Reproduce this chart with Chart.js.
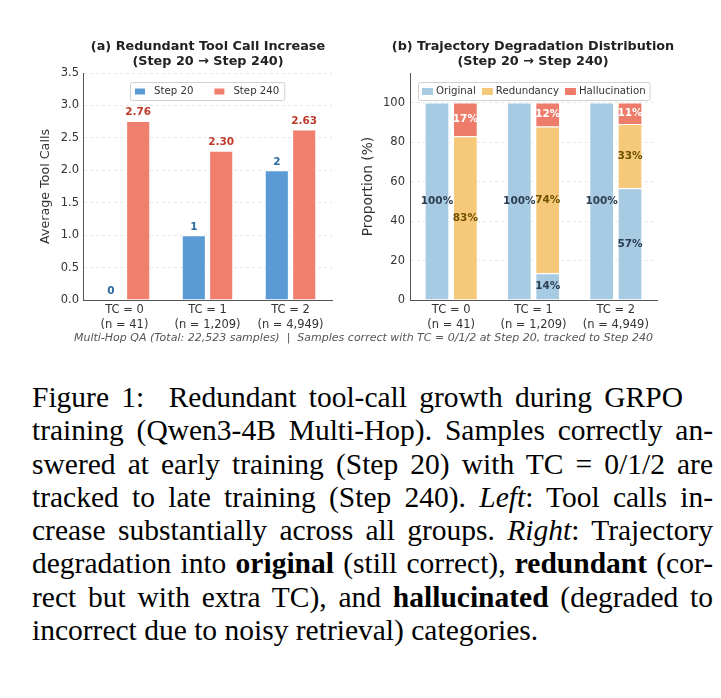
<!DOCTYPE html>
<html>
<head>
<meta charset="utf-8">
<script src="https://cdn.jsdelivr.net/npm/chart.js@4.4.0/dist/chart.umd.min.js"></script>
<style>
body { margin: 0; background: #fff; width: 721px; height: 698px; position: relative; overflow: hidden; font-family: 'DejaVu Sans', sans-serif; }
canvas { position: absolute; }
#toolChart { left: 0; top: 30px; }
#trajChart { left: 350px; top: 30px; }
.ttl { position: absolute; width: 400px; font-family: 'DejaVu Sans'; font-weight: bold; font-size: 12.8px; color: #222; text-align: center; line-height: 15px; }
#note { position: absolute; left: 3px; width: 721px; top: 331px; text-align: center; font-family: 'DejaVu Sans'; font-style: italic; font-size: 11px; line-height: 14px; color: #555; white-space: pre; }
#caption { position: absolute; left: 32px; top: 381px; width: 681px; font-family: 'Liberation Serif', 'Times New Roman', serif; font-size: 29.5px; line-height: 33.3px; color: #000; }
#caption div { text-align: justify; text-align-last: justify; }
#caption div.last { text-align-last: left; }
</style>
</head>
<body>
<canvas id="toolChart" width="345" height="310"></canvas>
<canvas id="trajChart" width="371" height="310"></canvas>
<div class="ttl" style="left:8px;top:38px">(a) Redundant Tool Call Increase<br>(Step 20 → Step 240)</div>
<div class="ttl" style="left:333px;top:38px">(b) Trajectory Degradation Distribution<br>(Step 20 → Step 240)</div>
<div id="note">Multi-Hop QA (Total: 22,523 samples)  |  Samples correct with TC = 0/1/2 at Step 20, tracked to Step 240</div>
<div id="caption">
  <div style="width:651px">Figure 1:&nbsp; Redundant tool-call growth during GRPO</div>
  <div>training (Qwen3-4B Multi-Hop). Samples correctly an-</div>
  <div>swered at early training (Step 20) with TC = 0/1/2 are</div>
  <div>tracked to late training (Step 240). <i>Left</i>: Tool calls in-</div>
  <div>crease substantially across all groups. <i>Right</i>: Trajectory</div>
  <div>degradation into <b>original</b> (still correct), <b>redundant</b> (cor-</div>
  <div>rect but with extra TC), and <b>hallucinated</b> (degraded to</div>
  <div class="last">incorrect due to noisy retrieval) categories.</div>
</div>
<script>
// groups tracked from step 20 to step 240
const groups = ['TC = 0', 'TC = 1', 'TC = 2'];
const groupSizes = ['(n = 41)', '(n = 1,209)', '(n = 4,949)'];

// (a) average tool calls
const step20Calls = [0, 1, 2];
const step240Calls = [2.76, 2.30, 2.63];
const callTicks = [0, 0.5, 1.0, 1.5, 2.0, 2.5, 3.0, 3.5];

// (b) proportions (%)
const step20Original = [100, 100, 100];
const step240Original = [0, 13.5, 56.6];
const step240Redundancy = [82.9, 74.4, 32.6];
const step240Hallucination = [17.1, 12.1, 10.8];

const tickLabels = groups.map((g, i) => [g, groupSizes[i]]);

Chart.defaults.font.family = "'DejaVu Sans'";

// legend box drawn inside the plot area, like matplotlib's upper center
const insideLegend = {
    id: 'insideLegend',
    afterDraw(chart, args, opts) {
        const ctx = chart.ctx;
        const area = chart.chartArea;
        ctx.save();
        ctx.font = opts.fontSize + 'px "DejaVu Sans"';
        let w = opts.padX * 2;
        opts.items.forEach((it, i) => {
            w += opts.patchW + opts.gap + ctx.measureText(it.label).width + (i ? opts.itemGap : 0);
        });
        const x0 = Math.round((area.left + area.right) / 2 - w / 2);
        const y0 = area.top + opts.top;
        const h = opts.height;
        ctx.fillStyle = 'rgba(255,255,255,0.9)';
        ctx.strokeStyle = '#d0d0d0';
        ctx.lineWidth = 1;
        ctx.beginPath();
        ctx.roundRect(x0 + 0.5, y0 + 0.5, w, h, 2);
        ctx.fill();
        ctx.stroke();
        let x = x0 + opts.padX;
        const cy = y0 + h / 2 + 0.5;
        opts.items.forEach(it => {
            ctx.fillStyle = it.color;
            ctx.fillRect(x, cy - opts.patchH / 2, opts.patchW, opts.patchH);
            x += opts.patchW + opts.gap;
            ctx.fillStyle = '#333';
            ctx.textBaseline = 'middle';
            ctx.textAlign = 'left';
            ctx.fillText(it.label, x, cy);
            x += ctx.measureText(it.label).width + opts.itemGap;
        });
        ctx.restore();
    }
};

// value labels on the bars
const valueLabels = {
    id: 'valueLabels',
    afterDatasetsDraw(chart, args, opts) {
        const ctx = chart.ctx;
        ctx.save();
        ctx.font = 'bold ' + opts.fontSize + 'px "DejaVu Sans"';
        ctx.textAlign = 'center';
        chart.data.datasets.forEach((ds, di) => {
            const meta = chart.getDatasetMeta(di);
            meta.data.forEach((bar, i) => {
                const txt = opts.format(ds.data[i], di);
                if (!txt) return;
                ctx.fillStyle = ds.labelColor;
                if (opts.mode === 'top') {
                    ctx.textBaseline = 'bottom';
                    ctx.fillText(txt, bar.x, bar.y - 3);
                } else {
                    ctx.textBaseline = 'middle';
                    ctx.fillText(txt, bar.x, (bar.y + bar.base) / 2);
                }
            });
        });
        ctx.restore();
    }
};

const gridStyle = { color: '#e2e2e2', lineWidth: 0.8, drawTicks: false };
const xAxis = {
    grid: { display: false, drawTicks: false, tickLength: 0 },
    border: { color: '#555', width: 1 },
    ticks: { color: '#333', font: { size: 11.5, lineHeight: 1.3 }, padding: 2.5, maxRotation: 0 },
    afterFit(s) { s.height = 40; }
};

new Chart(document.getElementById('toolChart'), {
    type: 'bar',
    data: {
        labels: tickLabels,
        datasets: [
            { label: 'Step 20', data: step20Calls, backgroundColor: '#5b9bd5', labelColor: '#2c6aa0' },
            { label: 'Step 240', data: step240Calls, backgroundColor: '#f07f6d', labelColor: '#c0392b' }
        ]
    },
    options: {
        responsive: false,
        animation: false,
        devicePixelRatio: 1,
        layout: { padding: { top: 43, right: 13, bottom: 0, left: 38 } },
        datasets: { bar: { categoryPercentage: 0.66, barPercentage: 0.88, borderColor: '#fff', borderWidth: 1 } },
        plugins: {
            legend: { display: false },
            tooltip: { enabled: false },
            insideLegend: {
                items: [{ label: 'Step 20', color: '#5b9bd5' }, { label: 'Step 240', color: '#f07f6d' }],
                fontSize: 10.2, patchW: 10, patchH: 6, gap: 9, itemGap: 21, padX: 5, top: 9, height: 18
            },
            valueLabels: {
                mode: 'top', fontSize: 10.5,
                format: (v, di) => di === 0 ? String(v) : v.toFixed(2)
            }
        },
        scales: {
            x: xAxis,
            y: {
                min: 0, max: 3.5,
                afterBuildTicks(s) { s.ticks = callTicks.map(v => ({ value: v })); },
                ticks: { color: '#333', font: { size: 11.5 }, padding: 4, callback: v => v.toFixed(1) },
                grid: gridStyle,
                border: { color: '#555', width: 1, dash: [3, 3] },
                title: { display: true, text: 'Average Tool Calls', color: '#333', font: { size: 12.7 }, padding: 0 },
                afterFit(s) { s.width = 45; }
            }
        }
    },
    plugins: [insideLegend, valueLabels]
});

new Chart(document.getElementById('trajChart'), {
    type: 'bar',
    data: {
        labels: tickLabels,
        datasets: [
            { label: 'Original', data: step20Original, stack: 's20', backgroundColor: '#a8cbe4', labelColor: '#2c3e50' },
            { label: 'Original', data: step240Original, stack: 's240', backgroundColor: '#a8cbe4', labelColor: '#2c3e50' },
            { label: 'Redundancy', data: step240Redundancy, stack: 's240', backgroundColor: '#f6c87a', labelColor: '#6e5200' },
            { label: 'Hallucination', data: step240Hallucination, stack: 's240', backgroundColor: '#ee7c6b', labelColor: '#ffffff' }
        ]
    },
    options: {
        responsive: false,
        animation: false,
        devicePixelRatio: 1,
        layout: { padding: { top: 43, right: 64, bottom: 0, left: 10 } },
        datasets: { bar: { categoryPercentage: 0.69, barPercentage: 0.87, borderColor: '#fff', borderWidth: 1 } },
        plugins: {
            legend: { display: false },
            tooltip: { enabled: false },
            insideLegend: {
                items: [
                    { label: 'Original', color: '#a8cbe4' },
                    { label: 'Redundancy', color: '#f6c87a' },
                    { label: 'Hallucination', color: '#ee7c6b' }
                ],
                fontSize: 10.2, patchW: 11, patchH: 7, gap: 3, itemGap: 6, padX: 4, top: 9, height: 18
            },
            valueLabels: {
                mode: 'middle', fontSize: 10.5,
                format: v => v > 0 ? Math.round(v) + '%' : ''
            }
        },
        scales: {
            x: Object.assign({}, xAxis, { stacked: true }),
            y: {
                stacked: true,
                min: 0, max: 115,
                ticks: { stepSize: 20, includeBounds: false, color: '#333', font: { size: 11.5 }, padding: 5 },
                grid: gridStyle,
                border: { color: '#555', width: 1, dash: [3, 3] },
                title: { display: true, text: 'Proportion (%)', color: '#333', font: { size: 13.8 }, padding: 0 },
                afterFit(s) { s.width = 50; }
            }
        }
    },
    plugins: [insideLegend, valueLabels]
});
</script>
</body>
</html>
